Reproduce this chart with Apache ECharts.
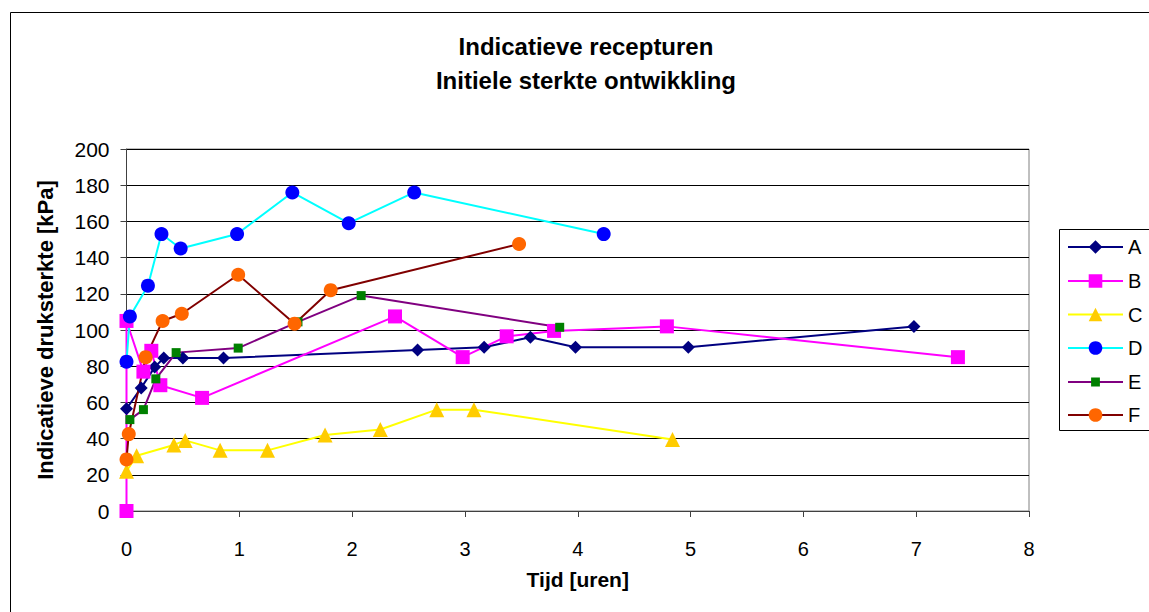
<!DOCTYPE html>
<html>
<head>
<meta charset="utf-8">
<title>Indicatieve recepturen</title>
<script src="https://cdn.jsdelivr.net/npm/echarts@6/dist/echarts.min.js"></script>
<style>
  html, body { margin: 0; padding: 0; background: #fff; }
  #chart { width: 1149px; height: 612px; }
</style>
</head>
<body>
<div id="chart"></div>
<script>
// Meetpunten: tijd [uren] en indicatieve druksterkte [kPa] per receptuur
const seriesNames = ['A', 'B', 'C', 'D', 'E', 'F'];

const tijdA = [0, 0.13, 0.25, 0.33, 0.5, 0.86, 2.58, 3.17, 3.58, 3.98, 4.98, 6.98];
const sterkteA = [56.5, 68, 79.5, 84.5, 84.5, 84.5, 89, 90.5, 96, 90.5, 90.5, 102];

const tijdB = [0, 0, 0.15, 0.22, 0.3, 0.67, 2.38, 2.98, 3.37, 3.79, 4.79, 7.37];
const sterkteB = [0, 105, 77, 88.5, 69.5, 62.5, 107.5, 85, 96.5, 99.5, 102, 85];

const tijdC = [0, 0.09, 0.42, 0.52, 0.83, 1.25, 1.76, 2.25, 2.75, 3.08, 4.84];
const sterkteC = [22, 30.5, 36.5, 39, 33.5, 33.5, 42, 45, 56, 56, 39.5];

const tijdD = [0, 0.03, 0.19, 0.31, 0.48, 0.98, 1.47, 1.97, 2.55, 4.23];
const sterkteD = [82.5, 107.5, 124.5, 153, 145, 153, 176, 159, 176, 153];

const tijdE = [0.03, 0.15, 0.26, 0.44, 0.99, 1.52, 2.08, 3.84];
const sterkteE = [50.5, 56, 73, 87.5, 90, 104.5, 119, 101.5];

const tijdF = [0, 0.02, 0.17, 0.32, 0.49, 0.99, 1.49, 1.81, 3.48];
const sterkteF = [28.5, 42.5, 85, 105, 109, 130.5, 103.5, 122, 147.5];

const xTicks = [0, 1, 2, 3, 4, 5, 6, 7, 8];
const yTicks = [0, 20, 40, 60, 80, 100, 120, 140, 160, 180, 200];

const titleLines = ['Indicatieve recepturen', 'Initiele sterkte ontwikkling'];
const xAxisName = 'Tijd [uren]';
const yAxisName = 'Indicatieve druksterkte [kPa]';

// Opmaak per reeks: lijnkleur, markering
const styles = {
  A: { line: '#000080', fill: '#000080', symbol: 'diamond', size: 13 },
  B: { line: '#FF00FF', fill: '#FF00FF', symbol: 'rect', size: 14 },
  C: { line: '#FFFF00', fill: '#FFCC00', symbol: 'triangle', size: 15 },
  D: { line: '#00FFFF', fill: '#0000FF', symbol: 'circle', size: 14 },
  E: { line: '#800080', fill: '#008000', symbol: 'rect', size: 9 },
  F: { line: '#800000', fill: '#FF6600', symbol: 'circle', size: 14 }
};

const raw = {
  A: [tijdA, sterkteA], B: [tijdB, sterkteB], C: [tijdC, sterkteC],
  D: [tijdD, sterkteD], E: [tijdE, sterkteE], F: [tijdF, sterkteF]
};

const FONT = "'Liberation Sans', Arial, sans-serif";

const series = seriesNames.map(name => {
  const [xs, ys] = raw[name];
  const s = styles[name];
  return {
    name: name,
    type: 'line',
    data: xs.map((x, i) => [x, ys[i]]),
    symbol: s.symbol,
    symbolSize: s.size,
    showAllSymbol: true,
    animation: false,
    lineStyle: { color: s.line, width: 2 },
    itemStyle: { color: s.fill, borderWidth: 0 },
    emphasis: { disabled: true }
  };
});

// Legenda: één component per reeks, zodat elke markering zijn eigen grootte houdt
const legendCenters = [247, 281, 314.5, 348, 382, 415];
const legends = seriesNames.map((name, i) => {
  const ih = name === 'E' ? 11 : 17;
  return {
    data: [name],
    left: 1067,
    top: legendCenters[i] - 10,
    padding: 0,
    itemWidth: 55,
    itemHeight: ih,
    selectedMode: false,
    textStyle: { fontFamily: FONT, fontSize: 20, color: '#000', lineHeight: 20 }
  };
});

const chart = echarts.init(document.getElementById('chart'), null, { renderer: 'svg' });

chart.setOption({
  backgroundColor: '#fff',
  animation: false,
  grid: {
    left: 126.5,
    top: 149,
    width: 902.5,
    height: 362,
    containLabel: false,
    outerBoundsMode: 'none',
    show: true,
    borderColor: '#808080',
    borderWidth: 1,
    backgroundColor: 'transparent'
  },
  legend: legends,
  xAxis: {
    type: 'value',
    min: xTicks[0],
    max: xTicks[xTicks.length - 1],
    interval: 1,
    name: xAxisName,
    nameLocation: 'middle',
    nameGap: 58,
    nameTextStyle: { fontFamily: FONT, fontSize: 21, fontWeight: 'bold', color: '#000' },
    axisLine: { show: true, onZero: false, lineStyle: { color: '#404040', width: 1 } },
    axisTick: { show: true, inside: false, length: 6, lineStyle: { color: '#404040' } },
    axisLabel: { fontFamily: FONT, fontSize: 20, color: '#000', margin: 28 },
    splitLine: { show: false }
  },
  yAxis: {
    type: 'value',
    min: yTicks[0],
    max: yTicks[yTicks.length - 1],
    interval: 20,
    name: yAxisName,
    nameLocation: 'middle',
    nameGap: 70,
    nameTextStyle: { fontFamily: FONT, fontSize: 22, fontWeight: 'bold', color: '#000' },
    axisLine: { show: true, lineStyle: { color: '#404040', width: 1 } },
    axisTick: { show: true, inside: false, length: 6, lineStyle: { color: '#404040' } },
    axisLabel: { fontFamily: FONT, fontSize: 21, color: '#000', margin: 17 },
    splitLine: { show: true, lineStyle: { color: '#000', width: 1 } }
  },
  graphic: [
    {
      type: 'rect',
      silent: true,
      shape: { x: 10.5, y: 12.5, width: 1400, height: 900 },
      style: { fill: 'none', stroke: '#000', lineWidth: 1 },
      z: -10
    },
    {
      type: 'rect',
      silent: true,
      shape: { x: 1059.5, y: 229.5, width: 200, height: 201 },
      style: { fill: '#fff', stroke: '#000', lineWidth: 1 },
      z: -5
    },
    {
      type: 'text',
      silent: true,
      style: {
        x: 586, y: 46.5, text: titleLines[0],
        font: "bold 24px 'Liberation Sans', Arial, sans-serif",
        fill: '#000', align: 'center', verticalAlign: 'middle'
      }
    },
    {
      type: 'text',
      silent: true,
      style: {
        x: 586, y: 80, text: titleLines[1],
        font: "bold 24px 'Liberation Sans', Arial, sans-serif",
        fill: '#000', align: 'center', verticalAlign: 'middle'
      }
    }
  ],
  series: series
});
</script>
</body>
</html>
